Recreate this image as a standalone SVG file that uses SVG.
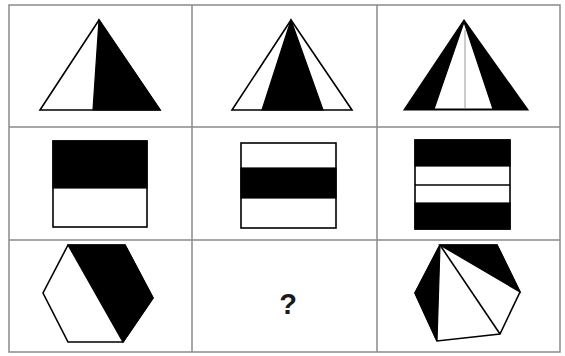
<svg xmlns="http://www.w3.org/2000/svg" width="565" height="356" viewBox="0 0 565 356">
<style>
.grid{fill:none;stroke:#8a8a8a;stroke-width:1.5}
.o{fill:#fff;stroke:#000;stroke-width:1.6;stroke-linejoin:miter}
.b{fill:#000;stroke:#000;stroke-width:1.2;stroke-linejoin:miter}
.l{fill:none;stroke:#000;stroke-width:1.6}
</style>
<rect width="565" height="356" fill="#fff"/>
<g id="grid">
<rect class="grid" x="9" y="5" width="551" height="347"/>
<line class="grid" x1="9" y1="127" x2="560" y2="127"/>
<line class="grid" x1="9" y1="240" x2="560" y2="240"/>
<line class="grid" x1="192" y1="5" x2="192" y2="352"/>
<line class="grid" x1="377" y1="5" x2="377" y2="352"/>
</g>
<g id="tri1">
<polygon class="o" points="99,20 40,110 160,110"/>
<polygon class="b" points="99,20 93,110 160,110"/>
</g>
<g id="tri2">
<polygon class="o" points="291,20 232,110 352,110"/>
<polygon class="b" points="291,20 262,110 323,110"/>
</g>
<g id="tri3">
<polygon class="b" points="464,20 404,110 528,110"/>
<polygon fill="#fff" stroke="#000" stroke-width="1.2" points="464,22 434,109 493,109"/>
<line x1="465" y1="30" x2="465" y2="108" stroke="#bbb" stroke-width="1.5"/>
</g>
<g id="sq1">
<rect class="o" x="53" y="141" width="94" height="86"/>
<rect class="b" x="53" y="141" width="94" height="47"/>
</g>
<g id="sq2">
<rect class="o" x="241" y="143" width="95" height="85"/>
<rect class="b" x="241" y="168" width="95" height="30"/>
</g>
<g id="sq3">
<rect class="o" x="415" y="140" width="95" height="89"/>
<rect class="b" x="415" y="140" width="95" height="26"/>
<rect class="b" x="415" y="203" width="95" height="26"/>
<line class="l" x1="415" y1="185" x2="510" y2="185"/>
</g>
<g id="hex1">
<polygon class="o" points="68,245 125,245 153,298 123,342 68,342 43,293"/>
<polygon class="b" points="68,245 125,245 153,298 123,342"/>
</g>
<g id="q">
<text x="288" y="314" font-family="Liberation Sans, Arial, sans-serif" font-size="29" font-weight="bold" text-anchor="middle" fill="#1a1a1a">?</text>
</g>
<g id="hex3">
<polygon class="o" points="440,245 497,245 520,292 500,334 437,341 415,293"/>
<polygon class="b" points="440,245 497,245 520,292"/>
<polygon class="b" points="440,245 415,293 437,341"/>
<line class="l" x1="440" y1="245" x2="500" y2="334"/>
</g>
</svg>
